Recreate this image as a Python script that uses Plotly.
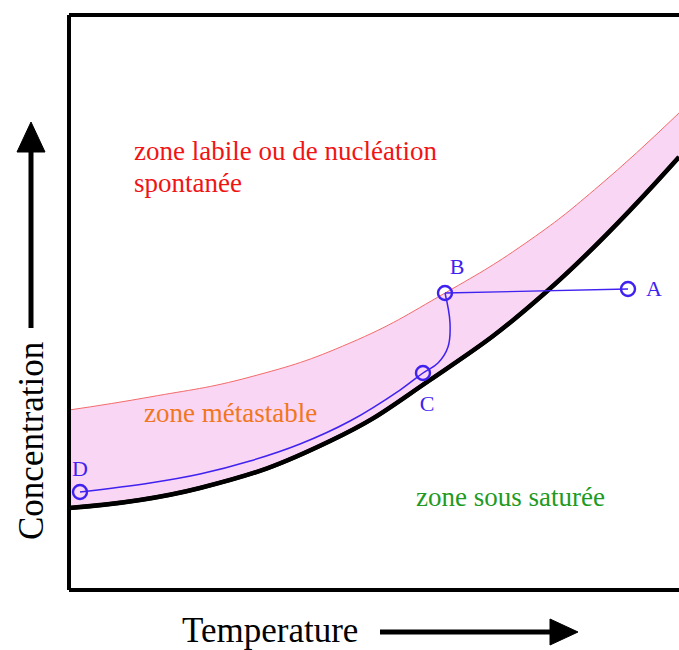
import plotly.graph_objects as go

# ---- data (arbitrary units 0..100) ----
sol_x = [0, 21.48, 42.79, 59.18, 78.03, 100]
sol_y = [14.26, 17.74, 25.90, 36.52, 51.65, 75.30]

lab_x = [0, 13.28, 29.67, 46.07, 61.64, 75.57, 87.05, 100]
lab_y = [31.30, 33.57, 37.04, 42.96, 51.65, 60.87, 70.43, 82.96]

ab_x = [91.64, 61.64]
ab_y = [52.35, 51.65]
bcd_x = [61.64, 62.46, 62.13, 60.49, 58.03, 54.26, 46.07, 37.87, 29.67, 21.48, 13.28, 1.80]
bcd_y = [51.65, 46.43, 42.26, 39.48, 37.74, 34.78, 29.39, 25.39, 22.43, 20.17, 18.61, 17.04]

pt_names = ["A", "B", "C", "D"]
pt_x = [91.64, 61.64, 58.03, 1.80]
pt_y = [52.35, 51.65, 37.74, 17.04]
lbl_x = [95.9, 63.61, 58.69, 1.80]
lbl_y = [52.17, 56.0, 32.17, 20.87]

W, H = 679, 650
L, R, T, B = 69, 0, 15, 60

def px(x):   # page x (pixels) -> paper
    return (x - L) / (W - L - R)

def py(y):   # page y (pixels) -> paper
    return (H - B - y) / (H - T - B)

BLUE = "#3f22f0"
FONT = "Liberation Serif"
SM = 1.3

fig = go.Figure()
fig.add_trace(go.Scatter(x=sol_x, y=sol_y, mode="lines",
                         line=dict(color="black", width=4, shape="spline", smoothing=SM),
                         hoverinfo="skip", showlegend=False))
fig.add_trace(go.Scatter(x=lab_x, y=lab_y, mode="lines",
                         line=dict(color="#f36b6b", width=1, shape="spline", smoothing=SM),
                         fill="tonexty", fillcolor="rgba(249,214,243,1)", hoverinfo="skip", showlegend=False))
fig.add_trace(go.Scatter(x=sol_x, y=sol_y, mode="lines",
                         line=dict(color="black", width=4.5, shape="spline", smoothing=SM),
                         hoverinfo="skip", showlegend=False))
fig.add_trace(go.Scatter(x=ab_x, y=ab_y, mode="lines", line=dict(color=BLUE, width=1.3),
                         hoverinfo="skip", showlegend=False))
fig.add_trace(go.Scatter(x=bcd_x, y=bcd_y, mode="lines",
                         line=dict(color=BLUE, width=1.5, shape="spline", smoothing=1.1),
                         hoverinfo="skip", showlegend=False))
fig.add_trace(go.Scatter(x=pt_x, y=pt_y, mode="markers",
                         marker=dict(symbol="circle-open", size=14, color=BLUE, line=dict(width=2.4, color=BLUE)),
                         hoverinfo="skip", showlegend=False, cliponaxis=False))
fig.add_trace(go.Scatter(x=lbl_x, y=lbl_y, mode="text", text=pt_names,
                         textfont=dict(family=FONT, size=22, color=BLUE),
                         hoverinfo="skip", showlegend=False, cliponaxis=False))

ann = [
    dict(x=px(132), y=py(151), text="zone labile ou de nucléation", color="#f01414", size=27, xanchor="left"),
    dict(x=px(132), y=py(183), text="spontanée", color="#f01414", size=27, xanchor="left"),
    dict(x=px(142), y=py(413), text="zone métastable", color="#f07620", size=27, xanchor="left"),
    dict(x=px(414), y=py(497), text="zone sous saturée", color="#229a22", size=27, xanchor="left"),
    dict(x=px(270), y=py(631), text="Temperature", color="black", size=35, xanchor="center"),
]
for a in ann:
    fig.add_annotation(x=a["x"], y=a["y"], xref="paper", yref="paper", text=a["text"], showarrow=False,
                       xanchor=a["xanchor"], yanchor="middle", align="left",
                       font=dict(family=FONT, size=a["size"], color=a["color"]))
fig.add_annotation(x=px(31), y=py(441), xref="paper", yref="paper", text="Concentration", showarrow=False,
                   textangle=-90, xanchor="center", yanchor="middle",
                   font=dict(family=FONT, size=35, color="black"))

shapes = [
    # frame
    dict(type="line", x0=0, x1=1.02, y0=1, y1=1, line=dict(color="black", width=4)),
    dict(type="line", x0=0, x1=0, y0=0, y1=1, line=dict(color="black", width=4)),
    dict(type="line", x0=0, x1=1.02, y0=0, y1=0, line=dict(color="black", width=4)),
    # horizontal arrow
    dict(type="line", x0=px(380), x1=px(552), y0=py(632), y1=py(632), line=dict(color="black", width=5)),
    dict(type="path", path=f"M {px(550)} {py(619)} L {px(578)} {py(632)} L {px(550)} {py(645)} Z",
         fillcolor="black", line=dict(color="black", width=1)),
    # vertical arrow
    dict(type="line", x0=px(31), x1=px(31), y0=py(328), y1=py(150), line=dict(color="black", width=5)),
    dict(type="path", path=f"M {px(17)} {py(152)} L {px(31)} {py(122)} L {px(45)} {py(152)} Z",
         fillcolor="black", line=dict(color="black", width=1)),
]
for s in shapes:
    s.setdefault("xref", "paper")
    s.setdefault("yref", "paper")
    fig.add_shape(**s)

fig.update_xaxes(range=[0, 100], visible=False, fixedrange=True)
fig.update_yaxes(range=[0, 100], visible=False, fixedrange=True)
fig.update_layout(width=W, height=H, margin=dict(l=L, r=R, t=T, b=B),
                  plot_bgcolor="white", paper_bgcolor="white", showlegend=False)

fig.write_html("out.html", config={"displayModeBar": False},
               post_script="document.body.style.margin='0';document.body.style.overflow='hidden';")
